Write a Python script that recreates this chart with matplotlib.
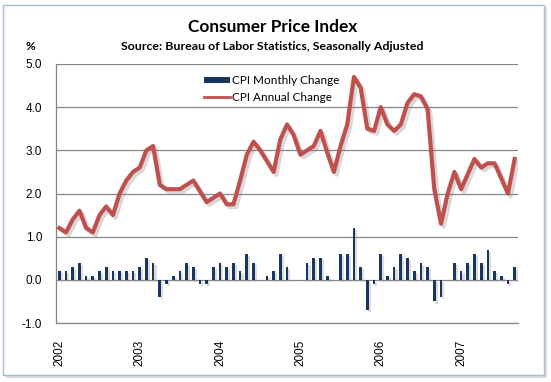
import matplotlib.pyplot as plt
import matplotlib.patheffects as pe
from matplotlib.patches import Rectangle
from matplotlib.lines import Line2D
import numpy as np

# Months Jan 2002 .. Sep 2007
years = ['2002', '2003', '2004', '2005', '2006', '2007']

# CPI monthly change (%), seasonally adjusted
monthly_change = [
    0.2, 0.2, 0.3, 0.4, 0.1, 0.1, 0.2, 0.3, 0.2, 0.2, 0.2, 0.2,   # 2002
    0.3, 0.5, 0.4, -0.4, -0.1, 0.1, 0.2, 0.4, 0.3, -0.1, -0.1, 0.3,  # 2003
    0.4, 0.3, 0.4, 0.2, 0.6, 0.4, 0.0, 0.1, 0.2, 0.6, 0.3, 0.0,   # 2004
    0.0, 0.4, 0.5, 0.5, 0.1, 0.0, 0.6, 0.6, 1.2, 0.3, -0.7, -0.1,  # 2005
    0.6, 0.1, 0.3, 0.6, 0.5, 0.2, 0.4, 0.3, -0.5, -0.4, 0.0, 0.4,  # 2006
    0.2, 0.4, 0.6, 0.4, 0.7, 0.2, 0.1, -0.1, 0.3,                # 2007
]

# CPI annual change (%)
annual_change = [
    1.2, 1.1, 1.4, 1.6, 1.2, 1.1, 1.5, 1.7, 1.5, 2.0, 2.3, 2.5,   # 2002
    2.6, 3.0, 3.1, 2.2, 2.1, 2.1, 2.1, 2.2, 2.3, 2.05, 1.8, 1.9,  # 2003
    2.0, 1.75, 1.75, 2.3, 2.9, 3.2, 3.0, 2.75, 2.5, 3.25, 3.6, 3.35,  # 2004
    2.9, 3.0, 3.1, 3.45, 2.95, 2.5, 3.1, 3.6, 4.7, 4.45, 3.5, 3.45,  # 2005
    4.0, 3.6, 3.45, 3.6, 4.1, 4.3, 4.25, 3.95, 2.1, 1.3, 2.0, 2.5,  # 2006
    2.1, 2.45, 2.8, 2.6, 2.7, 2.7, 2.35, 2.0, 2.8,               # 2007
]

x = np.arange(len(monthly_change))

fig = plt.figure(figsize=(5.51, 3.82), dpi=100)
W, H = 551, 382

# chart frame with a soft shadow
fig.patches.append(Rectangle((6 / W, 1 - 378 / H), 541 / W, 371 / H, transform=fig.transFigure,
                             facecolor='#dcdcdc', edgecolor='none', zorder=-3))
fig.patches.append(Rectangle((3 / W, 1 - 375 / H), 541 / W, 370 / H, transform=fig.transFigure,
                             facecolor='white', edgecolor='#a7bcd6', lw=1, zorder=-2))

ax = fig.add_axes([56 / W, 1 - 323 / H, 462 / W, 259 / H])
ax.set_facecolor('none')

bars = ax.bar(x, monthly_change, width=0.4, color='#17375e', zorder=3)
for b in bars:
    b.set_path_effects([pe.SimplePatchShadow(offset=(1.5, -1.5), shadow_rgbFace='#a0a0a0', alpha=0.35),
                        pe.Normal()])

ax.plot(x, annual_change, color='#c0504d', lw=3.0, zorder=4, solid_joinstyle='round',
        path_effects=[pe.SimpleLineShadow(offset=(2, -2), shadow_color='#808080', alpha=0.3),
                      pe.Normal()])

ax.set_xlim(-0.5, len(x) - 0.5)
ax.set_ylim(-1.0, 5.0)
ax.set_yticks(np.arange(-1.0, 5.01, 1.0))
ax.set_yticklabels([f'{v:.1f}' for v in np.arange(-1.0, 5.01, 1.0)])
ax.set_xticks(np.arange(0, len(x), 12))
ax.set_xticklabels(years, rotation=90, va='top', ha='center')
ax.tick_params(axis='both', length=0, labelsize=8.5, colors='black')
ax.tick_params(axis='x', pad=12)
ax.tick_params(axis='y', pad=10)
for lab in ax.get_xticklabels() + ax.get_yticklabels():
    lab.set_family('Liberation Sans')

ax.yaxis.grid(True, color='#868686', lw=0.9)
ax.set_axisbelow(True)
for s in ['top', 'right']:
    ax.spines[s].set_visible(False)
ax.spines['left'].set_color('#868686')
ax.spines['bottom'].set_color('#868686')
ax.spines['left'].set_linewidth(0.9)
ax.spines['bottom'].set_linewidth(0.9)

# titles
fig.text(273 / W, 1 - 27.5 / H, 'Consumer Price Index', ha='center', va='center',
         fontsize=12.4, fontweight='bold', family='Lato')
fig.text(272 / W, 1 - 46.5 / H, 'Source: Bureau of Labor Statistics, Seasonally Adjusted',
         ha='center', va='center', fontsize=8.9, fontweight='bold', family='Lato')
fig.text(30 / W, 1 - 46.5 / H, '%', ha='center', va='center', fontsize=8.5,
         fontweight='bold', family='Lato')

# legend
handles = [Rectangle((0, 0), 1, 1, facecolor='#17375e'),
           Line2D([], [], color='#c0504d', lw=2)]
fig.legend(handles, ['CPI Monthly Change', 'CPI Annual Change'], loc='center left',
           bbox_to_anchor=(204 / W, 1 - 89 / H), frameon=False, borderpad=0,
           borderaxespad=0, handlelength=2.2, handleheight=0.45, handletextpad=0.15,
           labelspacing=0.45, prop={'family': 'Lato', 'size': 8.5})

fig.savefig('out.png', dpi=100)
